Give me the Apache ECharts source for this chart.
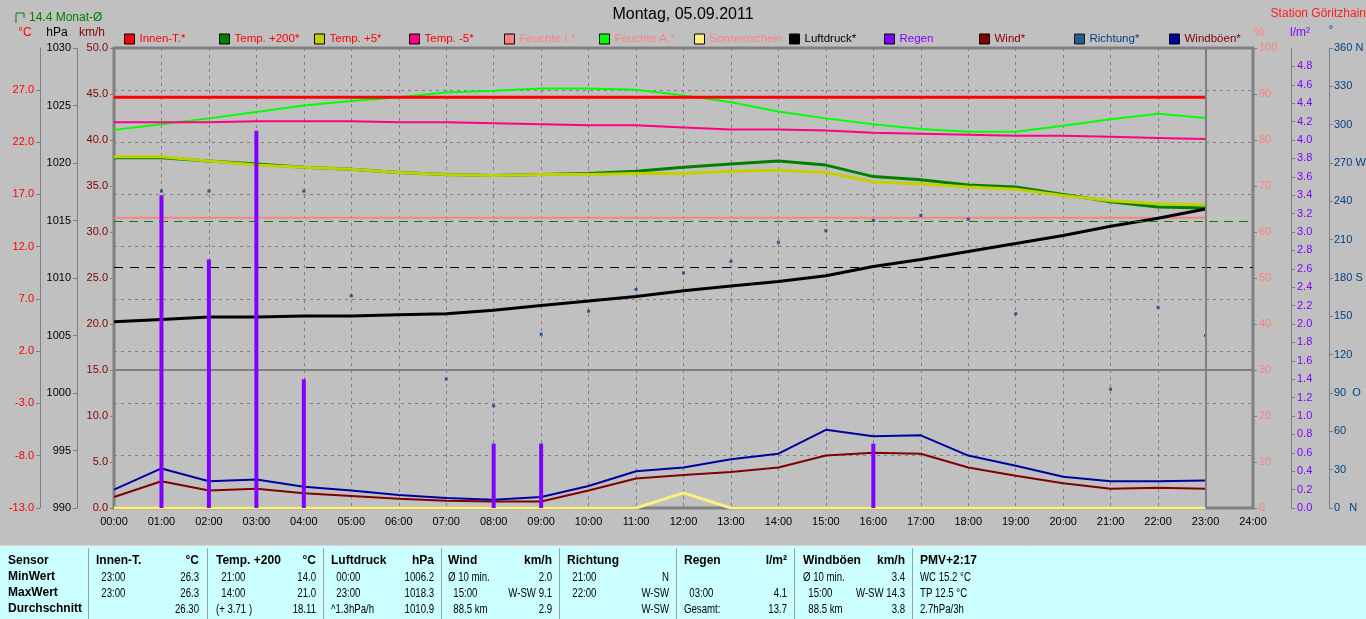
<!DOCTYPE html>
<html><head><meta charset="utf-8">
<script src="https://cdn.jsdelivr.net/npm/echarts@6/dist/echarts.min.js"></script>
<style>html,body{margin:0;padding:0;background:#c0c0c0;overflow:hidden}#c{width:1366px;height:619px;}</style>
</head><body><div id="c"></div><script>
// ---------- data ----------
const hours = ['00:00','01:00','02:00','03:00','04:00','05:00','06:00','07:00','08:00','09:00','10:00','11:00','12:00','13:00','14:00','15:00','16:00','17:00','18:00','19:00','20:00','21:00','22:00','23:00','24:00'];
const innenT = [26.3,26.3,26.3,26.3,26.3,26.3,26.3,26.3,26.3,26.3,26.3,26.3,26.3,26.3,26.3,26.3,26.3,26.3,26.3,26.3,26.3,26.3,26.3,26.3];
const temp200 = [20.5,20.5,20.2,19.9,19.6,19.4,19.1,18.9,18.8,18.9,19.0,19.2,19.6,19.9,20.2,19.8,18.7,18.4,17.9,17.7,17.0,16.3,15.8,15.7];
const temp5 = [20.6,20.6,20.2,19.8,19.6,19.4,19.1,18.9,18.8,18.9,18.9,19.0,19.0,19.2,19.3,19.1,18.2,18.0,17.7,17.5,16.9,16.4,16.1,16.0];
const tempM5 = [23.9,23.9,23.9,24.0,24.0,24.0,23.9,23.9,23.8,23.7,23.6,23.6,23.4,23.2,23.2,23.1,22.9,22.8,22.7,22.6,22.6,22.5,22.4,22.3];
const feuchteI = [63.1,63.1,63.1,63.1,63.1,63.1,63.1,63.1,63.1,63.1,63.1,63.1,63.1,63.1,63.1,63.1,63.1,63.1,63.1,63.1,63.1,63.1,63.1,63.1];
const feuchteA = [82.2,83.4,84.7,86.1,87.5,88.5,89.3,90.3,90.7,91.2,91.2,90.9,89.7,88.2,86.2,84.7,83.4,82.4,81.8,81.8,83.1,84.5,85.7,84.8];
const sonne = [0,0,0,0,0,0,0,0,0,0,0,0,3.3,0,0,0,0,0,0,0,0,0,0,0];
const luftdruck = [1006.2,1006.4,1006.6,1006.6,1006.7,1006.7,1006.8,1006.9,1007.2,1007.6,1008.0,1008.4,1008.9,1009.3,1009.7,1010.2,1011.0,1011.6,1012.3,1013.0,1013.7,1014.5,1015.2,1016.0];
const regen = [null,3.4,2.7,4.1,1.4,null,null,null,0.7,0.7,null,null,null,null,null,null,0.7,null,null,null,null,null,null,null];
const wind = [1.2,2.9,1.9,2.1,1.6,1.3,1.0,0.8,0.7,0.7,1.9,3.2,3.6,3.9,4.4,5.7,6.0,5.9,4.4,3.5,2.7,2.1,2.2,2.1];
const richtung = [null,248,248,248,248,166,null,101,80,136,154,171,184,193,208,217,225,229,226,152,null,93,157,135];
const boeen = [2.0,4.3,2.9,3.1,2.3,1.9,1.4,1.1,0.9,1.2,2.4,4.0,4.4,5.3,5.9,8.5,7.8,7.9,5.7,4.6,3.4,2.9,2.9,3.0];
const monatAvg = 14.4;
const pressAvg = 1010.9;
const dividerKmh = 15;
const nowHour = '23:00';
const dirTickLabels = ['0   N','30','60','90  O','120','150','180 S','210','240','270 W','300','330','360 N'];
const seriesNames = ['Innen-T.*','Temp. +200*','Temp. +5*','Temp. -5*','Feuchte I.*','Feuchte A.*','Sonnenschein','Luftdruck*','Regen','Wind*','Richtung*','Windböen*'];
const titleText = 'Montag, 05.09.2011';
const stationText = 'Station Göritzhain';
const monatText = '14.4 Monat-Ø';
const tableLeft = [
  ['Sensor','MinWert','MaxWert','Durchschnitt'],
  ['Innen-T.','  23:00','  23:00',''],
  ['Temp. +200','  21:00','  14:00','(+ 3.71 )'],
  ['Luftdruck','  00:00','  23:00','^1.3hPa/h'],
  ['Wind','Ø 10 min.','  15:00','  88.5 km'],
  ['Richtung','  21:00','  22:00',''],
  ['Regen','','  03:00','Gesamt:'],
  ['Windböen','Ø 10 min.','  15:00','  88.5 km'],
  ['PMV+2:17','WC 15.2 °C','TP 12.5 °C','2.7hPa/3h']
];
const tableRight = [
  null,
  ['°C','26.3','26.3','26.30'],
  ['°C','14.0','21.0','18.11'],
  ['hPa','1006.2','1018.3','1010.9'],
  ['km/h','2.0','W-SW 9.1','2.9'],
  ['','N','W-SW','W-SW'],
  ['l/m²','','4.1','13.7'],
  ['km/h','3.4','W-SW 14.3','3.8'],
  null
];

// ---------- style ----------
const FONT = '"Liberation Sans", Arial, sans-serif';
const GRAY = '#808080';
const AX_FS = 11;
const seriesColors = ['#ff0000','#008000','#c0d000','#ff0080','#ff8080','#00ff00','#ffee80','#000000','#8000ff','#800000','#004080','#0000a0'];
const legendTextColors = ['#ff0000','#ff0000','#ff0000','#ff0000','#ff8080','#ff8080','#ff8080','#000000','#8000ff','#800000','#004080','#800000'];

const chart = echarts.init(document.getElementById('c'), null, {renderer:'canvas'});

function yAx(o){
  return Object.assign({
    type:'value', splitLine:{show:false},
    axisLine:{show:true, lineStyle:{color:GRAY, width:1}},
    axisTick:{show:true, length:4, lineStyle:{color:GRAY}},
    axisLabel:{fontSize:AX_FS, fontFamily:FONT, margin:6, showMaxLabel:true}
  }, o);
}

const yAxes = [
  yAx({position:'left', offset:0, min:0, max:50, interval:5, axisLine:{show:false},
       axisLabel:{fontSize:AX_FS, fontFamily:FONT, margin:6, color:'#800000', formatter:v=>v.toFixed(1)}}),
  yAx({position:'left', offset:37, min:990, max:1030, interval:5,
       axisLabel:{fontSize:AX_FS, fontFamily:FONT, margin:6, color:'#000000', formatter:v=>String(Math.round(v))}}),
  yAx({position:'left', offset:74, min:-13, max:31, interval:5,
       splitLine:{show:true, lineStyle:{color:GRAY, type:[3,4], width:1}},
       axisLabel:{fontSize:AX_FS, fontFamily:FONT, margin:6, color:'#ff0000', showMaxLabel:false, formatter:v=>v.toFixed(1)}}),
  yAx({position:'right', offset:0, min:0, max:100, interval:10, axisLine:{show:false},
       axisLabel:{fontSize:AX_FS, fontFamily:FONT, margin:6, color:'#ff8080'}}),
  yAx({position:'right', offset:38, min:0, max:5, interval:0.2,
       axisLabel:{fontSize:AX_FS, fontFamily:FONT, margin:6, color:'#8000ff', showMaxLabel:false, formatter:v=>v.toFixed(1)}}),
  yAx({position:'right', offset:76, min:0, max:360, interval:30,
       axisLabel:{fontSize:AX_FS, fontFamily:FONT, margin:5, color:'#004080', formatter:v=>dirTickLabels[Math.round(v/30)]}})
];

function lineS(i, data, yIdx, width, extra){
  return Object.assign({
    name:seriesNames[i], type:'line', data:data, yAxisIndex:yIdx,
    symbol:'none', showSymbol:false, color:seriesColors[i],
    lineStyle:{color:seriesColors[i], width:width}, itemStyle:{color:seriesColors[i]},
    animation:false, z:2
  }, extra||{});
}

const series = [
  lineS(6, sonne, 3, 3),
  lineS(4, feuchteI, 3, 2),
  lineS(5, feuchteA, 3, 2),
  lineS(3, tempM5, 2, 2),
  lineS(1, temp200, 2, 3, {markLine:{silent:true, symbol:'none', label:{show:false}, animation:false,
      data:[{yAxis:monatAvg, lineStyle:{color:'#008000', type:[9,6], width:1}}]}}),
  lineS(2, temp5, 2, 3),
  lineS(7, luftdruck, 1, 3, {markLine:{silent:true, symbol:'none', label:{show:false}, animation:false,
      data:[{yAxis:pressAvg, lineStyle:{color:'#000000', type:[9,7], width:1}}]}}),
  lineS(9, wind, 0, 2, {markLine:{silent:true, symbol:'none', label:{show:false}, animation:false,
      data:[{yAxis:dividerKmh, lineStyle:{color:GRAY, type:'solid', width:2}},
            {xAxis:nowHour, lineStyle:{color:GRAY, type:'solid', width:2}}]}}),
  lineS(11, boeen, 0, 2),
  lineS(0, innenT, 2, 3, {z:3}),
  {name:seriesNames[10], type:'scatter', data:richtung, yAxisIndex:5, symbol:'rect', symbolSize:3,
   color:seriesColors[10], itemStyle:{color:seriesColors[10]}, animation:false, z:3},
  {name:seriesNames[8], type:'bar', data:regen, yAxisIndex:4, barWidth:4, barGap:'-100%',
   color:seriesColors[8], itemStyle:{color:seriesColors[8]}, animation:false, z:5}
];

const legends = seriesNames.map((n,i)=>({
  show:true, left:124+95*i, top:33, padding:0, itemWidth:10, itemHeight:10, itemGap:0,
  selectedMode:false, icon:'rect',
  data:[{name:n, icon:'rect', itemStyle:{color:seriesColors[i], borderColor:'#000', borderWidth:1},
         textStyle:{color:legendTextColors[i], fontSize:11.5, fontFamily:FONT}}],
  textStyle:{color:legendTextColors[i], fontSize:11.5, fontFamily:FONT}
}));

function txt(x,y,text,color,opt){
  opt = opt||{};
  return {type:'text', x:x, y:y, scaleX:opt.scaleX||1, silent:true, z:100,
    style:{text:text, fill:color, fontSize:opt.size||12, fontFamily:FONT, fontWeight:opt.bold?'bold':'normal',
      align:opt.align||'left', verticalAlign:'middle', textAlign:opt.align||'left', textVerticalAlign:'middle'}};
}

// table layout
const colSep = [88,207,323,441,559,676,794,912];
const colLeft = [8,96,216,331,448,567,684,803,920];
const colRight = [null,199,316,434,552,669,787,905,null];
const rowY = [561,577,593,609];
const graphics = [];
graphics.push({type:'rect', shape:{x:0,y:546,width:1366,height:73}, style:{fill:'#ccffff', stroke:null}, silent:true, z:90});
graphics.push({type:'line', shape:{x1:0,y1:546,x2:1366,y2:546}, style:{stroke:'#e8e8e8', lineWidth:1}, silent:true, z:91});
colSep.forEach(x=>graphics.push({type:'line', shape:{x1:x+0.5,y1:548,x2:x+0.5,y2:619}, style:{stroke:'#a0a0a0', lineWidth:1}, silent:true, z:91}));
tableLeft.forEach((col,ci)=>{
  col.forEach((t,ri)=>{
    if(!t) return;
    const bold = (ri===0 || ci===0);
    graphics.push(txt(colLeft[ci], rowY[ri], t, '#000', {bold:bold, size:bold?12:13, scaleX:bold?1:0.74}));
  });
});
tableRight.forEach((col,ci)=>{
  if(!col) return;
  col.forEach((t,ri)=>{
    if(!t) return;
    const bold = (ri===0);
    graphics.push(txt(colRight[ci], rowY[ri], t, '#000', {bold:bold, size:bold?12:13, align:'right', scaleX:bold?1:0.74}));
  });
});
// header texts
graphics.push(txt(683, 15, titleText, '#000', {size:16, align:'center'}));
graphics.push(txt(1366, 14, stationText, '#ff2020', {size:12, align:'right'}));
graphics.push(txt(29, 18, monatText, '#008000', {size:12}));
graphics.push({type:'polyline', shape:{points:[[16,23],[16,13],[24,13],[24,18]]}, style:{stroke:'#008000', lineWidth:1, fill:null}, silent:true});
graphics.push(txt(25, 33, '°C', '#ff0000', {align:'center'}));
graphics.push(txt(57, 33, 'hPa', '#000000', {align:'center'}));
graphics.push(txt(92, 33, 'km/h', '#800000', {align:'center'}));
graphics.push(txt(1259, 33, '%', '#ff8080', {align:'center'}));
graphics.push(txt(1300, 33, 'l/m²', '#8000ff', {align:'center'}));
graphics.push(txt(1331, 31, '°', '#004080', {align:'center'}));

chart.setOption({
  animation:false,
  backgroundColor:'#c0c0c0',
  grid:{left:114, right:113, top:48, bottom:111, show:true, borderColor:GRAY, borderWidth:3, backgroundColor:'transparent', outerBoundsMode:'none', containLabel:false},
  legend:legends,
  xAxis:{type:'category', data:hours, boundaryGap:false,
    axisLine:{show:true, lineStyle:{color:GRAY, width:1}},
    axisTick:{show:false},
    axisLabel:{interval:0, color:'#000', fontSize:AX_FS, fontFamily:FONT, margin:8},
    splitLine:{show:true, interval:0, lineStyle:{color:GRAY, type:[3,4], width:1}}},
  yAxis:yAxes,
  series:series,
  graphic:graphics
});
</script></body></html>
